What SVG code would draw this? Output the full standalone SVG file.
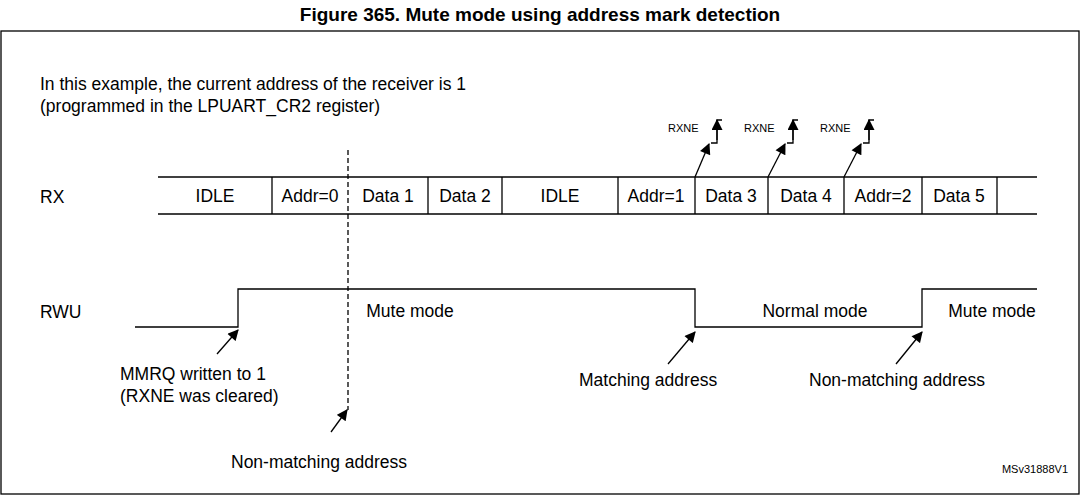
<svg xmlns="http://www.w3.org/2000/svg" width="1080" height="495" viewBox="0 0 1080 495">
<defs>
<marker id="ah" viewBox="0 0 10 10" refX="9" refY="5" markerWidth="12" markerHeight="11" markerUnits="userSpaceOnUse" orient="auto"><path d="M0,0L10,5L0,10z" style="fill:#000;stroke:none"/></marker>
<style>
text{font-family:"Liberation Sans",Arial,sans-serif;fill:#000}
.t{font-size:17.5px}
.s{font-size:11px}
line,polyline{stroke:#000;fill:none;stroke-width:1.3}
.a{marker-end:url(#ah)}
</style>
</defs>
<rect width="1080" height="495" fill="#fff"/>
<text x="540" y="21" text-anchor="middle" style="font-size:19px;font-weight:bold">Figure 365. Mute mode using address mark detection</text>
<rect x="1" y="31" width="1078" height="463" fill="none" stroke="#000" stroke-width="1.3"/>
<g id="note"><text class="t" x="40" y="90">In this example, the current address of the receiver is 1</text>
<text class="t" x="40" y="112">(programmed in the LPUART_CR2 register)</text></g>
<g id="rx">
<text class="t" x="40" y="203">RX</text>
<line x1="158" y1="177" x2="1037" y2="177"/><line x1="158" y1="214" x2="1037" y2="214"/>
<g>
<line x1="272" y1="177" x2="272" y2="214"/><line x1="428" y1="177" x2="428" y2="214"/><line x1="502" y1="177" x2="502" y2="214"/><line x1="618" y1="177" x2="618" y2="214"/><line x1="695" y1="177" x2="695" y2="214"/><line x1="768" y1="177" x2="768" y2="214"/><line x1="844" y1="177" x2="844" y2="214"/><line x1="922" y1="177" x2="922" y2="214"/><line x1="997" y1="177" x2="997" y2="214"/>
</g>
<text class="t" x="215" y="202" text-anchor="middle">IDLE</text>
<text class="t" x="310" y="202" text-anchor="middle">Addr=0</text>
<text class="t" x="388" y="202" text-anchor="middle">Data 1</text>
<text class="t" x="465" y="202" text-anchor="middle">Data 2</text>
<text class="t" x="560" y="202" text-anchor="middle">IDLE</text>
<text class="t" x="656" y="202" text-anchor="middle">Addr=1</text>
<text class="t" x="731" y="202" text-anchor="middle">Data 3</text>
<text class="t" x="806" y="202" text-anchor="middle">Data 4</text>
<text class="t" x="883" y="202" text-anchor="middle">Addr=2</text>
<text class="t" x="959" y="202" text-anchor="middle">Data 5</text>
</g>
<g id="rxne">
<text class="s" x="668" y="132">RXNE</text>
<text class="s" x="744" y="132">RXNE</text>
<text class="s" x="820" y="132">RXNE</text>
<polyline points="711,143 717,143 717,120 722,120"/><line class="a" x1="717" y1="140" x2="717" y2="120"/>
<polyline points="787,143 793,143 793,120 798,120"/><line class="a" x1="793" y1="140" x2="793" y2="120"/>
<polyline points="863,143 869,143 869,120 874,120"/><line class="a" x1="869" y1="140" x2="869" y2="120"/>
</g>
<g id="rwu">
<text class="t" x="40" y="318">RWU</text>
<polyline points="135,327 238,327 238,289 695,289 695,327 922,327 922,289 1037,289"/>
<text class="t" x="410" y="317" text-anchor="middle">Mute mode</text>
<text class="t" x="815" y="317" text-anchor="middle">Normal mode</text>
<text class="t" x="992" y="317" text-anchor="middle">Mute mode</text>
</g>
<line x1="348" y1="150" x2="348" y2="410" stroke-dasharray="5,3"/>
<g id="connectors">
<line class="a" x1="695" y1="177" x2="709" y2="144"/>
<line class="a" x1="768" y1="177" x2="785" y2="144"/>
<line class="a" x1="844" y1="177" x2="861" y2="144"/>
<line class="a" x1="217" y1="354" x2="238" y2="330"/>
<line class="a" x1="668" y1="364" x2="695" y2="332"/>
<line class="a" x1="896" y1="364" x2="922" y2="332"/>
<line class="a" x1="331" y1="432" x2="347" y2="410"/>
</g>
<g id="labels">
<text class="t" x="120" y="380">MMRQ written to 1</text>
<text class="t" x="120" y="402">(RXNE was cleared)</text>
<text class="t" x="579" y="386">Matching address</text>
<text class="t" x="809" y="386">Non-matching address</text>
<text class="t" x="231" y="468">Non-matching address</text>
<text class="s" x="1068" y="473" text-anchor="end">MSv31888V1</text>
</g>
</svg>
